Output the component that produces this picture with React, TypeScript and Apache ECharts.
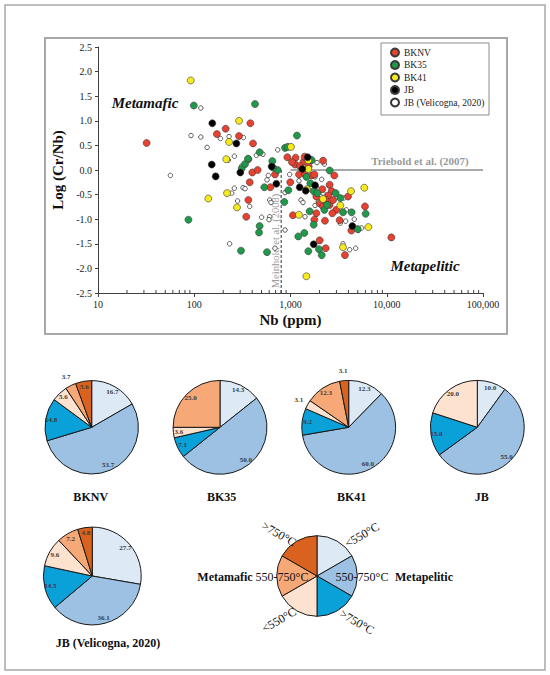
import React, { useEffect, useRef } from 'react';
import * as echarts from 'echarts';

const SERIF = "'Liberation Serif', 'Times New Roman', serif";

// ---------- scatter data: [Nb (ppm), log(Cr/Nb)] ----------
const BKNV: number[][] = [
  [32, 0.55], [172, 0.73], [212, 0.84], [292, 0.69], [383, 0.95], [408, 0.54], [365, 0.22],
  [401, -0.05], [456, 0.0], [377, -0.25], [365, -0.61], [347, -0.95], [617, -0.35], [690, -0.09],
  [1130, 0.25], [1115, 0.11], [995, -0.25], [1060, -0.92], [1225, -0.09], [1415, -0.09],
  [1370, 0.17], [1460, 0.23], [1630, 0.2], [1660, -0.11], [1770, -0.09], [2180, 0.19],
  [2850, -0.11], [2140, -0.39], [2550, -0.3], [2680, -0.43], [2470, -0.52], [2320, -0.61],
  [2010, -0.68], [2180, -0.74], [2550, -0.71], [2990, -0.81], [2720, -0.88], [1855, -0.88],
  [1770, -1.01], [2280, -1.03], [3240, -1.02], [3960, -0.54], [4290, -1.23], [2010, -1.43],
  [2320, -1.59], [3680, -1.73], [5940, -0.74], [11160, -1.37], [1250, 0.08], [927, 0.26],
  [1037, 0.16], [1403, 0.27], [1545, 0.07], [1855, -0.54], [2770, -0.61],
];
const BK35: number[][] = [
  [99, 1.31], [428, 1.34], [87, -1.01], [311, 0.03], [337, 0.12], [362, 0.23], [478, 0.36],
  [647, 0.18], [736, 0.0], [535, -0.35], [478, -1.14], [471, -1.27], [306, -1.64], [570, -1.67],
  [863, -0.65], [949, -0.41], [877, 0.45], [935, 0.47], [1167, 0.7], [1205, -1.35], [1393, -1.28],
  [1531, -1.65], [1581, -0.84], [1741, -1.11], [1607, -0.27], [1741, -0.43], [2553, -0.01],
  [2945, -0.47], [3294, -0.57], [3511, -0.86], [4315, -0.86], [4985, -1.2], [6040, -0.89],
  [1977, -1.61], [2109, -1.73], [2249, -0.81], [2396, -0.71], [1660, 0.2], [1462, -0.14],
  [1902, -0.47], [658, 0.05],
];
const BK41: number[][] = [
  [92, 1.82], [292, 1.0], [230, 0.57], [215, 0.22], [140, -0.58], [219, -0.47], [278, -0.76],
  [1011, 0.47], [1225, -0.91], [1485, -0.39], [1531, 0.02], [2178, -0.59], [3294, -0.72],
  [4254, -0.43], [5845, -0.36], [6440, -1.16], [3511, -1.57], [1462, -2.16], [1531, 0.2],
];
const JB: number[][] = [
  [154, 0.95], [274, 0.54], [152, 0.11], [167, -0.13], [301, -0.05], [637, 0.07], [713, -0.28],
  [1245, -0.35], [1439, -0.42], [1507, 0.26], [1327, 0.02], [1741, -1.51], [4388, -1.14],
  [1798, -0.31],
];
const JB_VELICOGNA: number[][] = [
  [56.5, -0.11], [92.5, 0.7], [117, 1.26], [117, 0.67], [136, 0.46], [187, 0.64], [230, 0.68],
  [261, 0.28], [226, 0.2], [311, 0.08], [321, -0.36], [261, -0.37], [282, -0.63], [377, -0.74],
  [233, -1.5], [518, 0.32], [442, 0.3], [589, -0.11], [570, -0.2], [608, -0.61], [627, -0.66],
  [608, -0.95], [501, -0.96], [598, -1.01], [736, 0.41], [877, -0.46], [980, -0.09], [877, -1.22],
  [1115, 0.14], [1225, -0.22], [1285, -0.61], [1349, -0.66], [1415, -0.95], [1884, 0.15],
  [1798, -0.14], [2109, -0.19], [2178, -0.47], [1946, -0.64], [1798, -0.72], [2249, 0.12],
  [1855, -0.34], [3739, -1.04], [4599, -1.0], [3511, -1.5], [4121, -1.62], [4754, -1.59],
  [5483, -1.18], [3565, -0.57], [3799, -0.81], [3294, -1.08], [2512, -0.32], [5067, -1.23],
  [690, -1.59], [245, -0.47], [337, -0.38], [324, 0.66],
];

const SCATTER_NAMES = ['BKNV', 'BK35', 'BK41', 'JB', 'JB (Velicogna, 2020)'];
const SCATTER_DATA = [BKNV, BK35, BK41, JB, JB_VELICOGNA];
const SCATTER_COLORS = ['#E8412F', '#1E9A4A', '#F6EA1C', '#000000', '#FFFFFF'];

// axes
const X_MIN = 10;
const X_MAX = 100000;
const X_DECADES = [10, 100, 1000, 10000];
const MINOR_MULTS = [2, 3, 4, 5, 6, 7, 8, 9];
const Y_MIN = -2.5;
const Y_MAX = 2.5;
const Y_STEP = 0.5;

// reference lines
const TRIEBOLD_LINE = [[1000, 0], [100000, 0]];
const MEINHOLD_LINE = [[800, -2.5], [800, 0]];

// ---------- pie data (%), order: Metapelitic <550, 550-750, >750, Metamafic <550, 550-750, >750 ----------
const CLASS_NAMES = [
  'Metapelitic <550°C', 'Metapelitic 550-750°C', 'Metapelitic >750°C',
  'Metamafic <550°C', 'Metamafic 550-750°C', 'Metamafic >750°C',
];
const CLASS_COLORS = ['#DDEAF6', '#9CC1E3', '#0AA0D8', '#FCE2CF', '#F6A877', '#D9621E'];

const PIE_BKNV = [16.7, 53.7, 14.8, 5.6, 3.7, 5.6];
const PIE_BK35 = [14.3, 50.0, 7.1, 3.6, 25.0, 0];
const PIE_BK41 = [12.3, 60.0, 9.2, 3.1, 12.3, 3.1];
const PIE_JB = [10.0, 55.0, 15.0, 20.0, 0, 0];
const PIE_JB_VEL = [27.7, 36.1, 14.5, 9.6, 7.2, 4.8];
const PIE_NAMES = ['BKNV', 'BK35', 'BK41', 'JB', 'JB (Velicogna, 2020)'];
const PIE_VALUES = [PIE_BKNV, PIE_BK35, PIE_BK41, PIE_JB, PIE_JB_VEL];
const KEY_PIE = [1, 1, 1, 1, 1, 1];

// layout (pixels)
const PIE_LAYOUT = [
  { cx: 91.7, cy: 427.3, r: 46.7, tx: 90.7, ty: 496.7 },
  { cx: 220.0, cy: 427.3, r: 46.9, tx: 221.7, ty: 496.7 },
  { cx: 348.7, cy: 427.3, r: 46.9, tx: 351.7, ty: 496.7 },
  { cx: 477.3, cy: 427.3, r: 46.9, tx: 481.7, ty: 496.7 },
  { cx: 92.3, cy: 576.0, r: 48.9, tx: 108.0, ty: 643.0 },
];
const OUTER_LABELS = [[4], [], [3, 5], [], []];
const KEY_LAYOUT = { cx: 317, cy: 576, r: 40.3 };

function buildPie(values: number[], i: number): any[] {
  const L = PIE_LAYOUT[i];
  const outer = OUTER_LABELS[i];
  const items = values.map((v, k) => ({ v, k })).filter((d) => d.v > 0);
  const base = {
    type: 'pie',
    center: [L.cx, L.cy],
    startAngle: 90,
    clockwise: true,
    silent: true,
    avoidLabelOverlap: false,
    labelLine: { show: false },
    emphasis: { disabled: true },
  };
  const labelStyle = {
    position: 'inside',
    fontFamily: SERIF,
    fontWeight: 'bold',
    fontSize: 7,
    color: '#3a3a3a',
    formatter: (p: any) => Number(p.value).toFixed(1),
  };
  return [
    {
      ...base,
      radius: L.r,
      z: 3,
      label: { show: false },
      itemStyle: { borderColor: '#1a1a1a', borderWidth: 1 },
      data: items.map((d) => ({ name: CLASS_NAMES[d.k], value: d.v, itemStyle: { color: CLASS_COLORS[d.k] } })),
    },
    {
      ...base,
      radius: [L.r * 0.64, L.r],
      z: 4,
      itemStyle: { color: 'rgba(0,0,0,0)', borderWidth: 0 },
      label: labelStyle,
      data: items.map((d) => ({ name: CLASS_NAMES[d.k], value: d.v, label: { show: !outer.includes(d.k) } })),
    },
    {
      ...base,
      radius: [L.r, L.r * 1.3],
      z: 4,
      itemStyle: { color: 'rgba(0,0,0,0)', borderWidth: 0 },
      label: labelStyle,
      data: items.map((d) => ({ name: CLASS_NAMES[d.k], value: d.v, label: { show: outer.includes(d.k) } })),
    },
  ];
}

function txt(text: string, x: number, y: number, size: number, opts: any = {}): any {
  return {
    type: 'text',
    x,
    y,
    rotation: opts.rotation || 0,
    z: opts.z ?? 1,
    style: {
      text,
      x: 0,
      y: 0,
      fill: opts.color || '#111',
      fontFamily: SERIF,
      fontSize: size,
      fontWeight: opts.bold ? 'bold' : 'normal',
      fontStyle: opts.italic ? 'italic' : 'normal',
      align: opts.align || 'center',
      textAlign: opts.align || 'center',
      verticalAlign: 'middle',
      textVerticalAlign: 'middle',
    },
  };
}

export default function App() {
  const ref = useRef<HTMLDivElement>(null);

  useEffect(() => {
    if (!ref.current) return;
    const chart = echarts.init(ref.current, undefined, { renderer: 'svg' });

    const minorTicks: number[][] = X_DECADES.flatMap((d) => MINOR_MULTS.map((m) => [d * m, Y_MIN]));

    const scatterSeries = SCATTER_NAMES.map((name, i) => {
      const open = i === 4;
      return {
        name,
        type: 'scatter',
        data: SCATTER_DATA[i],
        symbol: 'circle',
        symbolSize: open ? 4.5 : 7,
        z: open ? 3 : 4,
        itemStyle: {
          color: SCATTER_COLORS[i],
          borderColor: open ? '#333' : '#3a3a3a',
          borderWidth: open ? 0.8 : 0.6,
          opacity: 1,
        },
        emphasis: { disabled: true },
      };
    });

    const pieSeries = PIE_VALUES.flatMap((v, i) => buildPie(v, i));

    const keyPie = {
      type: 'pie',
      center: [KEY_LAYOUT.cx, KEY_LAYOUT.cy],
      radius: KEY_LAYOUT.r,
      startAngle: 90,
      clockwise: true,
      silent: true,
      label: { show: false },
      labelLine: { show: false },
      itemStyle: { borderColor: '#1a1a1a', borderWidth: 1 },
      data: KEY_PIE.map((v, k) => ({ name: CLASS_NAMES[k], value: v, itemStyle: { color: CLASS_COLORS[k] } })),
    };

    const D = Math.PI / 180;
    const graphics: any[] = [
      { type: 'rect', shape: { x: 5, y: 5, width: 540, height: 665 }, style: { fill: 'none', stroke: '#a8a8a8', lineWidth: 1.5 }, z: 0 },
      { type: 'rect', shape: { x: 45, y: 38, width: 462, height: 296 }, style: { fill: 'none', stroke: '#a8a8a8', lineWidth: 2 }, z: 0 },
      { type: 'rect', shape: { x: 381, y: 43, width: 108, height: 72 }, style: { fill: '#fff', stroke: '#8c8c8c', lineWidth: 1 }, z: 0 },
      txt('Metamafic', 145, 103, 15, { bold: true, italic: true }),
      txt('Metapelitic', 425, 266, 15, { bold: true, italic: true }),
      txt('Triebold et al. (2007)', 420, 161, 11, { color: '#9a9a9a', bold: true }),
      txt('Meinhold et al. (2008)', 275, 241, 10.5, { color: '#9a9a9a', rotation: 90 * D }),
      ...PIE_NAMES.map((n, i) => txt(n, PIE_LAYOUT[i].tx, PIE_LAYOUT[i].ty, 12, { bold: true })),
      txt('Metamafic', 225, 577, 12, { bold: true }),
      txt('Metapelitic', 424, 577, 12, { bold: true }),
      txt('550-750°C', 282, 577, 12, { z: 10 }),
      txt('550-750°C', 362, 577, 12, { z: 10 }),
      txt('>750°C', 279, 534, 12, { rotation: -30 * D, z: 10 }),
      txt('<550°C', 362, 535, 12, { rotation: 30 * D, z: 10 }),
      txt('<550°C', 279, 620, 12, { rotation: 30 * D, z: 10 }),
      txt('>750°C', 357, 622, 12, { rotation: -30 * D, z: 10 }),
    ];

    chart.setOption({
      animation: false,
      backgroundColor: '#ffffff',
      textStyle: { fontFamily: SERIF },
      grid: { left: 98, top: 47, width: 385, height: 246, containLabel: false },
      legend: {
        data: SCATTER_NAMES,
        orient: 'vertical',
        left: 390,
        top: 47.5,
        padding: 0,
        itemWidth: 8,
        itemHeight: 8,
        itemGap: 2.5,
        icon: 'circle',
        selectedMode: false,
        textStyle: { fontFamily: SERIF, fontSize: 9.5, color: '#222', lineHeight: 10 },
      },
      xAxis: {
        type: 'log',
        logBase: 10,
        min: X_MIN,
        max: X_MAX,
        name: 'Nb (ppm)',
        nameLocation: 'middle',
        nameGap: 19,
        nameTextStyle: { fontFamily: SERIF, fontSize: 15, fontWeight: 'bold', color: '#111' },
        axisLine: { show: true, onZero: false, lineStyle: { color: '#404040', width: 1 } },
        axisTick: { show: true, length: 4, lineStyle: { color: '#404040' } },
        axisLabel: {
          fontFamily: SERIF,
          fontSize: 10,
          color: '#222',
          margin: 6,
          formatter: (v: number) => Math.round(v).toLocaleString('en-US'),
        },
        splitLine: { show: false },
        minorTick: { show: false },
      },
      yAxis: {
        type: 'value',
        min: Y_MIN,
        max: Y_MAX,
        interval: Y_STEP,
        name: 'Log (Cr/Nb)',
        nameLocation: 'middle',
        nameGap: 28,
        nameRotate: 90,
        nameTextStyle: { fontFamily: SERIF, fontSize: 15, fontWeight: 'bold', color: '#111' },
        axisLine: { show: true, onZero: false, lineStyle: { color: '#404040', width: 1 } },
        axisTick: { show: true, length: 3, lineStyle: { color: '#404040' } },
        axisLabel: {
          fontFamily: SERIF,
          fontSize: 10,
          color: '#222',
          margin: 6,
          formatter: (v: number) => v.toFixed(1),
        },
        splitLine: { show: false },
      },
      graphic: graphics,
      series: [
        {
          type: 'custom',
          coordinateSystem: 'cartesian2d',
          silent: true,
          data: minorTicks,
          z: 2,
          renderItem: (_params: any, api: any) => {
            const p = api.coord([api.value(0), api.value(1)]);
            return {
              type: 'line',
              shape: { x1: p[0], y1: p[1], x2: p[0], y2: p[1] - 3 },
              style: { stroke: '#404040', lineWidth: 1 },
            };
          },
        },
        {
          type: 'line',
          data: TRIEBOLD_LINE,
          symbol: 'none',
          silent: true,
          z: 2,
          lineStyle: { color: '#555', width: 1.2 },
        },
        {
          type: 'line',
          data: MEINHOLD_LINE,
          symbol: 'none',
          silent: true,
          z: 2,
          lineStyle: { color: '#333', width: 1, type: [3, 2] },
        },
        ...scatterSeries,
        ...pieSeries,
        keyPie,
      ],
    });

    return () => chart.dispose();
  }, []);

  return <div ref={ref} style={{ position: 'fixed', left: 0, top: 0, width: 550, height: 675 }} />;
}
